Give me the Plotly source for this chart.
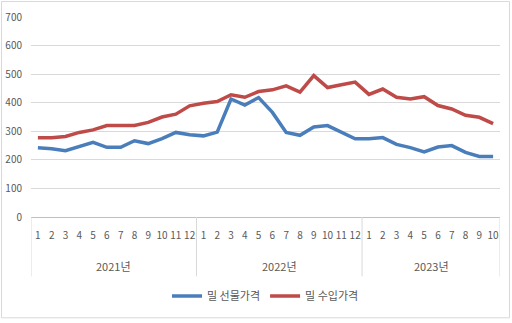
import plotly.graph_objects as go

# Monthly wheat prices, Jan 2021 – Oct 2023
years = ["2021년", "2022년", "2023년"]
months_per_year = [12, 12, 10]
month_labels = [str(m) for n in months_per_year for m in range(1, n + 1)]

futures_price = [242, 239, 232, 247, 261, 244, 244, 267, 257, 274, 296, 288,
                 284, 297, 413, 392, 418, 366, 296, 286, 315, 320, 296, 274,
                 274, 278, 254, 243, 228, 245, 250, 226, 212, 212]
import_price = [277, 277, 282, 296, 305, 320, 320, 320, 331, 350, 360, 389,
                398, 404, 428, 419, 439, 445, 459, 437, 495, 453, 463, 472,
                429, 448, 419, 413, 421, 390, 378, 356, 349, 327]

y_ticks = list(range(0, 701, 100))

FONT = "Noto Sans CJK KR"
TEXT = "#595959"
GRID = "#d9d9d9"

x = list(range(len(month_labels)))

fig = go.Figure()
fig.add_trace(go.Scatter(x=x, y=futures_price, name="밀 선물가격", mode="lines",
                         line=dict(color="#4a7ebb", width=3.5)))
fig.add_trace(go.Scatter(x=x, y=import_price, name="밀 수입가격", mode="lines",
                         line=dict(color="#be4b48", width=3.5)))

# Year group labels and dividers below the month labels
shapes = []
annotations = []
start = 0
bounds = [-0.5]
for yr, n in zip(years, months_per_year):
    annotations.append(dict(x=start + (n - 1) / 2, y=-0.245, xref="x", yref="paper",
                            text=yr, showarrow=False, yanchor="middle",
                            font=dict(family=FONT, size=11, color=TEXT)))
    start += n
    bounds.append(start - 0.5)
for b in bounds:
    shapes.append(dict(type="line", xref="x", yref="paper", x0=b, x1=b, y0=0, y1=-0.297,
                       line=dict(color=GRID, width=1)))

# Chart-area border
shapes.append(dict(type="rect", xref="paper", yref="paper",
                   x0=-0.0629, x1=1.0203, y0=-0.504, y1=1.0773,
                   line=dict(color=GRID, width=1)))

fig.update_layout(
    width=512, height=323,
    margin=dict(l=31, r=12, t=17, b=105.5),
    paper_bgcolor="white", plot_bgcolor="white",
    font=dict(family=FONT, color=TEXT, size=10),
    shapes=shapes, annotations=annotations,
    showlegend=True,
    legend=dict(orientation="h", x=0.5, xanchor="center", y=-0.395, yanchor="middle",
                font=dict(family=FONT, size=11, color=TEXT), itemwidth=30),
    xaxis=dict(range=[-0.5, len(x) - 0.5], tickvals=x, ticktext=month_labels,
               showgrid=False, zeroline=False, showline=True, linecolor="#bfbfbf",
               ticks="", ticklabelstandoff=9, fixedrange=True, automargin=False,
               tickfont=dict(family=FONT, size=10, color=TEXT)),
    yaxis=dict(range=[0, 700], tickvals=y_ticks, showgrid=True, gridcolor=GRID,
               zeroline=False, showline=False, ticks="", ticklabelstandoff=8,
               automargin=False, fixedrange=True,
               tickfont=dict(family=FONT, size=10, color=TEXT)),
)

fig.write_html("out.html")
